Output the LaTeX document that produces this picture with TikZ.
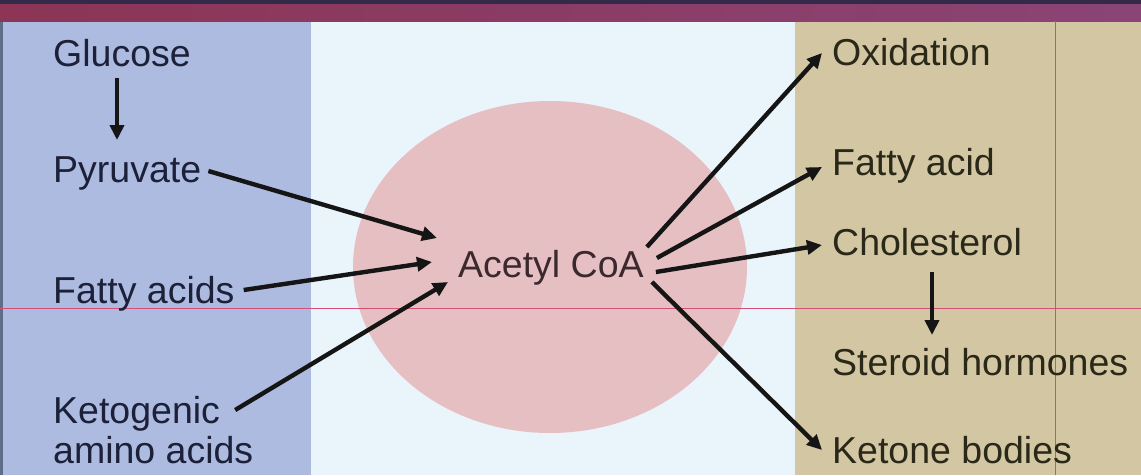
\documentclass[tikz,border=0pt]{standalone}
\usepackage{fontspec}
\setmainfont{Liberation Sans}
\usetikzlibrary{arrows.meta,calc}

\definecolor{bandtop}{HTML}{332A4A}
\definecolor{bandleft}{HTML}{8C3555}
\definecolor{bandright}{HTML}{8A4476}
\definecolor{leftpanel}{HTML}{ADBBE0}
\definecolor{leftedge}{HTML}{5E6E88}
\definecolor{midpanel}{HTML}{E9F5FB}
\definecolor{rightpanel}{HTML}{D3C6A3}
\definecolor{pool}{HTML}{E6BFC3}
\definecolor{guide}{HTML}{D05078}
\definecolor{inktext}{HTML}{1C2038}
\definecolor{olivetext}{HTML}{2A2818}
\definecolor{pooltext}{HTML}{3A2A2E}
\definecolor{arrowink}{HTML}{151515}

\tikzset{
  lbl/.style={inner sep=0pt, anchor=base west, font=\fontsize{37.5}{40}\selectfont,
              text height=28pt, text depth=0pt},
  inlbl/.style={lbl, text=inktext},
  outlbl/.style={lbl, text=olivetext},
  arr/.style={draw=arrowink, line width=4.4pt,
              -{Triangle[length=15pt,width=14pt]}},
}

\begin{document}
\begin{tikzpicture}[x=1pt,y=-1pt]
\useasboundingbox (0,0) rectangle (1141,475);

% background panels
\fill[midpanel] (0,0) rectangle (1141,475);
\fill[leftpanel] (0,20) rectangle (311,475);
\fill[leftedge] (0,20) rectangle (3,475);
\fill[rightpanel] (795,20) rectangle (1141,475);

% title band
\shade[left color=bandleft, right color=bandright] (0,0) rectangle (1141,21);
\fill[bandtop] (0,0) rectangle (1141,4);

% central pool
\fill[pool] (550,267) ellipse [x radius=197, y radius=166];

% thin guide lines
\draw[guide, line width=1pt] (0,308) -- (1141,308);
\draw[guide, line width=1pt] (1055,21) -- (1055,475);

% sources
\node[inlbl] (glu)   at (53,66)  {Glucose};
\node[inlbl] (pyr)   at (53,182) {Pyruvate};
\node[inlbl] (fas)   at (53,303) {Fatty acids};
\node[inlbl] (ketoa) at (53,423) {Ketogenic};
\node[inlbl] (ketob) at (53,463) {amino acids};

% hub
\node[lbl, text=pooltext] (acoa) at (458,277) {Acetyl CoA};

% fates
\node[outlbl] (ox)   at (832,65)  {Oxidation};
\node[outlbl] (fa)   at (832,175) {Fatty acid};
\node[outlbl] (chol) at (832,255) {Cholesterol};
\node[outlbl] (ster) at (832,375) {Steroid hormones};
\node[outlbl] (ket)  at (832,463) {Ketone bodies};

% vertical steps
\draw[arr] ([shift={(64,12)}]glu.base west) -- ([shift={(64,-42)}]pyr.base west);
\draw[arr] ([shift={(100,17)}]chol.base west) -- ([shift={(100,-40)}]ster.base west);

% into acetyl CoA
\draw[arr] ([shift={(7,3)}]pyr.east)   -- ([shift={(-21,-25)}]acoa.west);
\draw[arr] ([shift={(9,1)}]fas.east)   -- ([shift={(-26,-1)}]acoa.west);
\draw[arr] ([shift={(15,1)}]ketoa.east) -- ([shift={(-10,19)}]acoa.west);

% out of acetyl CoA
\draw[arr] ([shift={(3,-16)}]acoa.east) -- ([shift={(-10,2)}]ox.west);
\draw[arr] ([shift={(13,-5)}]acoa.east) -- ([shift={(-10,6)}]fa.west);
\draw[arr] ([shift={(12,9)}]acoa.east)  -- ([shift={(-10,4)}]chol.west);
\draw[arr] ([shift={(8,19)}]acoa.east)  -- ([shift={(-10,1)}]ket.west);
\end{tikzpicture}
\end{document}
